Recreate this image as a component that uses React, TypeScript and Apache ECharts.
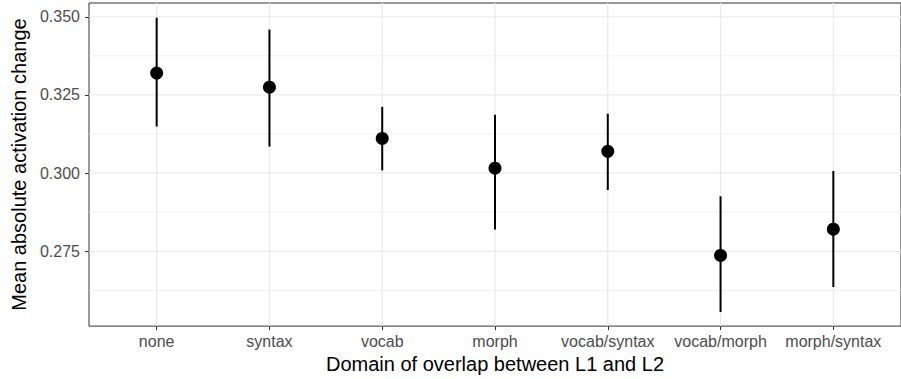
import React, { useEffect, useRef } from "react";
import * as echarts from "echarts";

const categories = ["none", "syntax", "vocab", "morph", "vocab/syntax", "vocab/morph", "morph/syntax"];
const means = [0.332, 0.3275, 0.3111, 0.3016, 0.307, 0.2737, 0.2821];
const lowers = [0.3149, 0.3085, 0.3009, 0.282, 0.2946, 0.2556, 0.2636];
const uppers = [0.3497, 0.3459, 0.3212, 0.3187, 0.319, 0.2926, 0.3007];
const yMajorTicks = [0.275, 0.3, 0.325, 0.35];
const yMinorTicks = [0.2625, 0.2875, 0.3125, 0.3375];
const xTicks = categories.map((_, i) => i);

const X_MIN = -0.6;
const X_MAX = 6.6;
const Y_MIN = 0.2511;
const Y_MAX = 0.3544;
const FONT = "'Liberation Sans', Arial, Helvetica, sans-serif";

function gridLine(points: number[][], color: string, width: number) {
  return {
    type: "line",
    silent: true,
    z: 1,
    symbol: "none",
    showSymbol: false,
    clip: false,
    lineStyle: { color, width, type: "solid", opacity: 1 },
    emphasis: { disabled: true },
    data: points,
  };
}

export default function App() {
  const ref = useRef<HTMLDivElement>(null);

  useEffect(() => {
    if (!ref.current) return;
    const chart = echarts.init(ref.current, null, { renderer: "svg" });

    const gridSeries = [
      ...yMinorTicks.map((v) => gridLine([[X_MIN, v], [X_MAX, v]], "#ededed", 0.8)),
      ...yMajorTicks.map((v) => gridLine([[X_MIN, v], [X_MAX, v]], "#ebebeb", 1.2)),
      ...xTicks.map((v) => gridLine([[v, Y_MIN], [v, Y_MAX]], "#ebebeb", 1.3)),
    ];

    chart.setOption({
      animation: false,
      textStyle: { fontFamily: FONT },
      grid: {
        left: 89,
        top: 3,
        right: -17,
        bottom: 49.5,
        show: true,
        borderColor: "#333333",
        borderWidth: 1,
        backgroundColor: "transparent",
        containLabel: false,
      },
      xAxis: {
        type: "value",
        min: X_MIN,
        max: X_MAX,
        name: "Domain of overlap between L1 and L2",
        nameLocation: "middle",
        nameGap: 27,
        nameTextStyle: { color: "#000", fontSize: 20, fontFamily: FONT },
        axisLine: { show: false, onZero: false },
        axisTick: {
          show: true,
          customValues: xTicks,
          length: 4,
          lineStyle: { color: "#333333", width: 1 },
        },
        axisLabel: {
          customValues: xTicks,
          margin: 7,
          color: "#4d4d4d",
          fontSize: 16,
          fontFamily: FONT,
          formatter: (v: number) => categories[Math.round(v)] ?? "",
        },
        splitLine: { show: false },
      },
      yAxis: {
        type: "value",
        min: Y_MIN,
        max: Y_MAX,
        name: "Mean absolute activation change",
        nameLocation: "middle",
        nameGap: 48,
        nameRotate: 90,
        nameTextStyle: { color: "#000", fontSize: 20, fontFamily: FONT },
        axisLine: { show: false, onZero: false },
        axisTick: {
          show: true,
          customValues: yMajorTicks,
          length: 4,
          lineStyle: { color: "#333333", width: 1 },
        },
        axisLabel: {
          customValues: yMajorTicks,
          margin: 9,
          color: "#4d4d4d",
          fontSize: 16,
          fontFamily: FONT,
          formatter: (v: number) => v.toFixed(3),
        },
        splitLine: { show: false },
      },
      series: [
        ...gridSeries,
        {
          type: "custom",
          name: "errorbar",
          z: 2,
          clip: false,
          encode: { x: 0, y: [1, 2] },
          data: categories.map((_, i) => [i, lowers[i], uppers[i]]),
          renderItem: (params: any, api: any) => {
            const p1 = api.coord([api.value(0), api.value(1)]);
            const p2 = api.coord([api.value(0), api.value(2)]);
            return {
              type: "line",
              shape: { x1: p1[0], y1: p1[1], x2: p2[0], y2: p2[1] },
              style: { stroke: "#000", lineWidth: 2 },
            };
          },
        },
        {
          type: "scatter",
          name: "mean",
          z: 3,
          symbol: "circle",
          symbolSize: 13,
          itemStyle: { color: "#000", opacity: 1 },
          data: categories.map((_, i) => [i, means[i]]),
        },
      ],
    });

    return () => chart.dispose();
  }, []);

  return (
    <div
      ref={ref}
      style={{ position: "fixed", left: 0, top: 0, width: 901, height: 379, background: "#fff" }}
    />
  );
}
